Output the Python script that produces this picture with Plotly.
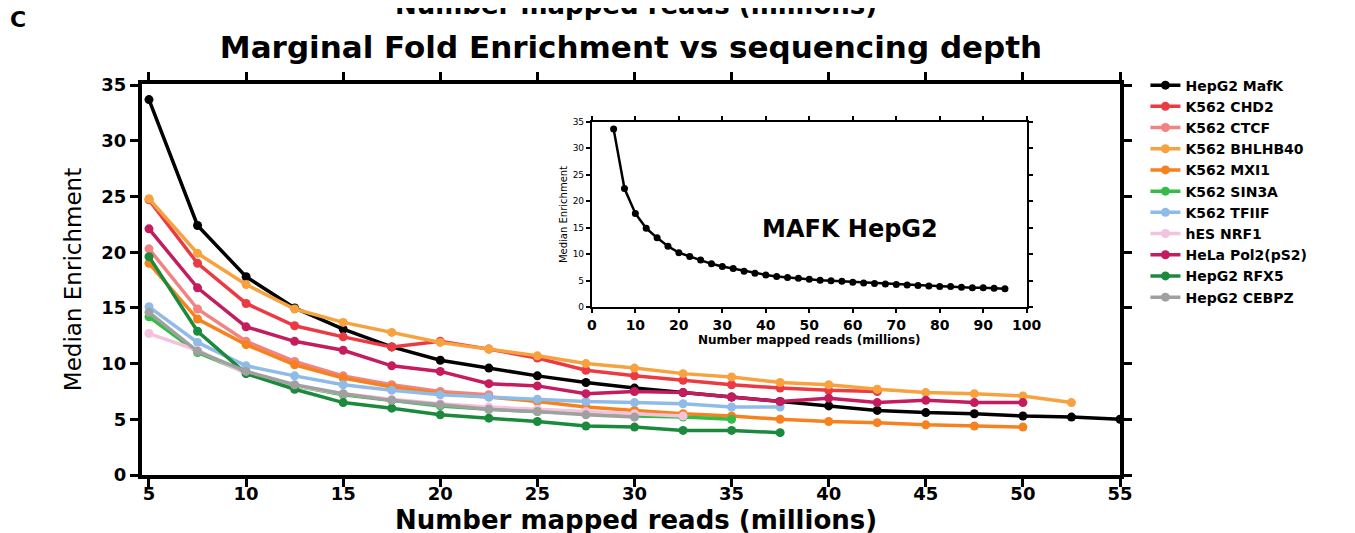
import plotly.graph_objects as go

# ---------------- data ----------------
depth = [5, 7.5, 10, 12.5, 15, 17.5, 20, 22.5, 25, 27.5, 30, 32.5, 35, 37.5,
         40, 42.5, 45, 47.5, 50, 52.5, 55]

series_names = ["HepG2 MafK", "K562 CHD2", "K562 CTCF", "K562 BHLHB40", "K562 MXI1",
                "K562 SIN3A", "K562 TFIIF", "hES NRF1", "HeLa Pol2(pS2)", "HepG2 RFX5",
                "HepG2 CEBPZ"]

hepg2_mafk = [33.7, 22.4, 17.8, 15.0, 13.1, 11.5, 10.3, 9.6, 8.9, 8.3, 7.8, 7.4, 7.0, 6.6,
              6.2, 5.8, 5.6, 5.5, 5.3, 5.2, 5.0]
k562_chd2 = [24.7, 19.0, 15.4, 13.4, 12.4, 11.5, 12.0, 11.3, 10.5, 9.4, 8.9, 8.5, 8.1, 7.8,
             7.6, 7.5]
k562_ctcf = [20.3, 14.9, 12.0, 10.2, 8.9, 8.1, 7.5, 7.2]
k562_bhlhb40 = [24.8, 19.9, 17.1, 14.9, 13.7, 12.8, 11.9, 11.3, 10.7, 10.0, 9.6, 9.1, 8.8,
                8.3, 8.1, 7.7, 7.4, 7.3, 7.1, 6.5]
k562_mxi1 = [19.0, 14.0, 11.7, 9.9, 8.7, 7.9, 7.3, 7.0, 6.6, 6.1, 5.8, 5.5, 5.3, 5.0, 4.8,
             4.7, 4.5, 4.4, 4.3]
k562_sin3a = [14.2, 11.0, 9.2, 8.0, 7.2, 6.7, 6.2, 5.9, 5.7, 5.5, 5.3, 5.2, 5.0]
k562_tfiif = [15.1, 11.9, 9.8, 8.9, 8.1, 7.6, 7.2, 7.0, 6.8, 6.6, 6.5, 6.4, 6.1, 6.1]
hes_nrf1 = [12.7, 11.2, 9.1, 8.0, 7.3, 6.8, 6.4, 6.1, 5.9, 5.7, 5.5, 5.3]
hela_pol2 = [22.1, 16.8, 13.3, 12.0, 11.2, 9.8, 9.3, 8.2, 8.0, 7.3, 7.5, 7.4, 7.0, 6.6, 6.9,
             6.5, 6.7, 6.5, 6.5]
hepg2_rfx5 = [19.6, 12.9, 9.1, 7.7, 6.5, 6.0, 5.4, 5.1, 4.8, 4.4, 4.3, 4.0, 4.0, 3.8]
hepg2_cebpz = [14.6, 11.1, 9.3, 8.1, 7.3, 6.7, 6.3, 5.9, 5.7, 5.4, 5.2]

series_values = [hepg2_mafk, k562_chd2, k562_ctcf, k562_bhlhb40, k562_mxi1, k562_sin3a,
                 k562_tfiif, hes_nrf1, hela_pol2, hepg2_rfx5, hepg2_cebpz]

# inset: MAFK HepG2 full depth series
inset_depth = [5, 7.5, 10, 12.5, 15, 17.5, 20, 22.5, 25, 27.5, 30, 32.5, 35, 37.5, 40,
               42.5, 45, 47.5, 50, 52.5, 55, 57.5, 60, 62.5, 65, 67.5, 70, 72.5, 75, 77.5,
               80, 82.5, 85, 87.5, 90, 92.5, 95]
inset_values = [33.6, 22.4, 17.7, 14.9, 13.1, 11.5, 10.3, 9.6, 8.9, 8.2, 7.7, 7.3, 6.8, 6.4,
                6.1, 5.8, 5.6, 5.5, 5.3, 5.1, 5.0, 4.9, 4.7, 4.6, 4.5, 4.4, 4.3, 4.2, 4.1,
                4.0, 3.9, 3.9, 3.8, 3.7, 3.7, 3.6, 3.5]

main_ticks = [5, 10, 15, 20, 25, 30, 35, 40, 45, 50, 55]
y_ticks = [0, 5, 10, 15, 20, 25, 30, 35]
inset_xticks = [0, 10, 20, 30, 40, 50, 60, 70, 80, 90, 100]

# ---------------- style ----------------
colors = ["#000000", "#EC3A44", "#F28383", "#F7A23F", "#F5821F", "#35BC48",
          "#8FBBE8", "#F3C3DE", "#C41C5E", "#1C8A3C", "#A0A0A0"]
FONT = "DejaVu Sans, Liberation Sans, Arial, sans-serif"

fig = go.Figure()
for name, vals, col in zip(series_names, series_values, colors):
    fig.add_trace(go.Scatter(
        x=depth[:len(vals)], y=vals, name=name, mode="lines+markers",
        line=dict(color=col, width=3.5), marker=dict(color=col, size=9),
        cliponaxis=False, xaxis="x", yaxis="y"))

fig.add_trace(go.Scatter(
    x=inset_depth, y=inset_values, mode="lines+markers", showlegend=False,
    line=dict(color="black", width=2.5), marker=dict(color="black", size=7),
    cliponaxis=False, xaxis="x2", yaxis="y2"))

axis_common = dict(showline=True, linecolor="black", mirror="ticks", ticks="outside",
                   tickcolor="black", showgrid=False, zeroline=False, automargin=False)

# page body has an 8px margin, so the figure is laid out 8px up/left of the target
fig.update_layout(
    width=1355, height=533,
    margin=dict(l=134, r=243, t=76, b=66, autoexpand=False),
    paper_bgcolor="white", plot_bgcolor="white",
    font=dict(family=FONT, color="black"),
    title=dict(text="Marginal Fold Enrichment vs sequencing depth",
               font=dict(size=31, weight="bold", family=FONT),
               x=0.4598, xanchor="center", y=0.927, yanchor="middle",
               xref="container", yref="container"),
    xaxis=dict(range=[4.64, 55], tickvals=main_ticks, linewidth=4, ticklen=8, tickwidth=3,
               tickfont=dict(size=18, weight="bold"), ticklabelstandoff=-9,
               **axis_common),
    yaxis=dict(range=[0, 35.1], tickvals=y_ticks, linewidth=4, ticklen=8, tickwidth=3,
               tickfont=dict(size=18, weight="bold"),
               title=dict(text="Median Enrichment", font=dict(size=23), standoff=14),
               **axis_common),
    xaxis2=dict(domain=[0.46, 0.9046], anchor="y2", range=[0, 100], tickvals=inset_xticks,
                linewidth=2, ticklen=4, tickwidth=1.5,
                tickfont=dict(size=14, weight="bold"),
                title=dict(text="Number mapped reads (millions)",
                           font=dict(size=12, weight="bold"), standoff=3),
                **axis_common),
    yaxis2=dict(domain=[0.4289, 0.9036], anchor="x2", range=[0, 35], tickvals=y_ticks,
                linewidth=2, ticklen=4, tickwidth=1.5,
                tickfont=dict(size=9),
                title=dict(text="Median Enrichment", font=dict(size=10), standoff=3),
                **axis_common),
    legend=dict(x=1.026, y=1.037, xanchor="left", yanchor="top",
                font=dict(size=14, weight="bold"), bgcolor="rgba(0,0,0,0)",
                itemwidth=30, traceorder="normal"),
    annotations=[
        dict(text="MAFK HepG2", xref="x2", yref="y2", x=59.4, y=14.8,
             showarrow=False, font=dict(size=24, weight="bold")),
        dict(text="C", xref="paper", yref="paper", x=-0.127, y=1.166,
             xanchor="center", yanchor="middle",
             showarrow=False, font=dict(size=22, weight="bold")),
        dict(text="Number mapped reads (millions)", xref="paper", yref="paper",
             x=0.505, y=1.202, xanchor="center", yanchor="middle", showarrow=False,
             font=dict(size=26, weight="bold")),
        # main x-axis title
        dict(text="Number mapped reads (millions)", xref="paper", yref="paper",
             x=0.505, y=-0.1145, xanchor="center", yanchor="middle", showarrow=False,
             font=dict(size=26, weight="bold")),
    ],
)

fig.write_html("out.html")
